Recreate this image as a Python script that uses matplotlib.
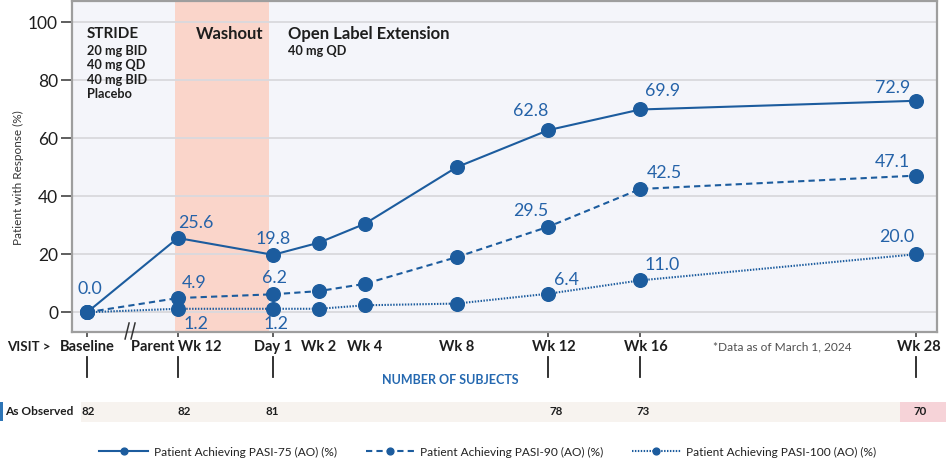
import matplotlib
matplotlib.use("Agg")
import matplotlib.pyplot as plt
import matplotlib.transforms as mtransforms
from matplotlib.lines import Line2D
from matplotlib.patches import Rectangle

plt.rcParams['font.family'] = ['Lato', 'DejaVu Sans']

# ---------------- data ----------------
visits = ["Baseline", "Parent Wk 12", "Day 1", "Wk 2", "Wk 4", "Wk 8", "Wk 12", "Wk 16", "Wk 28"]
visit_pos = [-8.1, -4.15, 0, 2, 4, 8, 12, 16, 28]          # position on timeline (OLE weeks)
pasi75 = [0.0, 25.6, 19.8, 24.0, 30.5, 50.0, 62.8, 69.9, 72.9]
pasi90 = [0.0, 4.9, 6.2, 7.3, 9.8, 19.0, 29.5, 42.5, 47.1]
pasi100 = [0.0, 1.2, 1.2, 1.2, 2.4, 3.0, 6.4, 11.0, 20.0]
series_names = ["Patient Achieving PASI-75 (AO) (%)",
                "Patient Achieving PASI-90 (AO) (%)",
                "Patient Achieving PASI-100 (AO) (%)"]
n_subjects = [82, 82, 81, None, None, None, 78, 73, 70]
yticks = [0, 20, 40, 60, 80, 100]
washout_span = (-4.27, -0.17)

# labelled points: (series index, visit index)
labelled = {
    0: [0, 1, 2, 6, 7, 8],
    1: [1, 2, 6, 7, 8],
    2: [1, 2, 6, 7, 8],
}
# label offsets in pixels (dx, dy)
label_offsets = {
    (0, 0): (3, 23), (0, 1): (18, 15), (0, 2): (0, 16), (0, 6): (-18, 19),
    (0, 7): (22, 18), (0, 8): (-23, 13),
    (1, 1): (16, 15), (1, 2): (1, 16), (1, 6): (-18, 16), (1, 7): (24, 16),
    (1, 8): (-23, 14),
    (2, 1): (18, -15), (2, 2): (3, -15), (2, 6): (18, 14), (2, 7): (22, 15),
    (2, 8): (-19, 17),
}
# small horizontal nudges (pixels) for visit labels and subject counts
visit_label_nudge = [0, -2, 0, 0, 0, 0, 5, 6, 3]
count_nudge = [1, 6, -1, 0, 0, 0, 8, 3, 4]

BLUE = '#1C5C9E'
LABEL_BLUE = '#2462A8'
DARK = '#1E1E1E'

W, H = 951, 462
fig = plt.figure(figsize=(W / 100, H / 100), dpi=100)
fig.patch.set_facecolor('white')

def fy(py):
    return 1 - py / H

ax = fig.add_axes([72 / W, fy(332), (937 - 72) / W, (332 - 1) / H])
ax.set_facecolor('#F4F5FA')
ax.set_xlim(-8.76, 28.93)
ax.set_ylim(-6.8, 107.3)

ax.axvspan(*washout_span, color='#FAD5CA', zorder=0.5, lw=0)
for yv in yticks:
    ax.axhline(yv, color='#D9D9DD', lw=1.3, zorder=0.6)

styles = [dict(ls='-'), dict(ls=(0, (3, 2))), dict(ls=(0, (0.7, 0.7)))]
all_series = [pasi75, pasi90, pasi100]
handles = []
for i, (vals, st) in enumerate(zip(all_series, styles)):
    ln, = ax.plot(visit_pos, vals, color=BLUE, lw=1.5, marker='o', ms=9.8,
                  markerfacecolor=BLUE, markeredgecolor=BLUE, zorder=3,
                  label=series_names[i], **st)
    handles.append(ln)
    for j in labelled[i]:
        dx, dy = label_offsets[(i, j)]
        ax.annotate(f"{vals[j]:.1f}", (visit_pos[j], vals[j]), xytext=(dx, dy),
                    textcoords='offset pixels', ha='center', va='center',
                    fontsize=12.8, color=LABEL_BLUE, zorder=4)

# spines & ticks
for sp in ax.spines.values():
    sp.set_color('#9E9E9E')
    sp.set_linewidth(1.6)
ax.set_yticks(yticks)
ax.set_yticklabels([str(v) for v in yticks], fontsize=12.5, color=DARK)
ax.tick_params(axis='y', direction='out', length=8, width=1.1, color='#333333', pad=2)
tick_x = [p for p, n in zip(visit_pos, n_subjects) if n is not None]
ax.set_xticks(tick_x)
ax.set_xticklabels([])
ax.tick_params(axis='x', direction='out', length=3.5, width=1.1, color='#333333')

ax.set_ylabel("Patient with Response (%)", fontsize=8.5, color='#333333')
ax.yaxis.set_label_coords(-0.0555, 0.465)

# period annotations inside plot
ax.text(-8.1, 96.0, "STRIDE", fontsize=11, fontweight='bold', color=DARK, ha='left', va='center')
for k, t in enumerate(["20 mg BID", "40 mg QD", "40 mg BID", "Placebo"]):
    ax.text(-8.1, 90.1 - k * 4.95, t, fontsize=9.2, fontweight='bold', color=DARK,
            ha='left', va='center')
ax.text(-3.37, 96.0, "Washout", fontsize=12, fontweight='bold', color=DARK, ha='left', va='center')
ax.text(0.65, 96.0, "Open Label Extension", fontsize=12, fontweight='bold', color=DARK,
        ha='left', va='center')
ax.text(0.65, 90.1, "40 mg QD", fontsize=9.2, fontweight='bold', color=DARK, ha='left', va='center')

# axis break marks
btr = mtransforms.blended_transform_factory(ax.transData, fig.transFigure)
for bx in (-6.36, -6.1):
    fig.add_artist(Line2D([bx - 0.087, bx + 0.087], [fy(339), fy(323)], transform=btr,
                          color='#333333', lw=1.1, clip_on=False))

def nudged(px):
    return btr + mtransforms.ScaledTranslation(px / 100, 0, fig.dpi_scale_trans)

# visit labels
fig.text(7 / W, fy(347), "VISIT >", fontsize=9.5, fontweight='bold', color=DARK,
         ha='left', va='center')
for name, p, nd in zip(visits, visit_pos, visit_label_nudge):
    fig.text(p, fy(347), name, transform=nudged(nd), fontsize=10.5, fontweight='bold',
             color=DARK, ha='center', va='center')
fig.text(782 / W, fy(347), "*Data as of March 1, 2024", fontsize=8.6, color='#505050',
         ha='center', va='center')

for p, n in zip(visit_pos, n_subjects):
    if n is not None:
        fig.add_artist(Line2D([p, p], [fy(357), fy(377)], transform=btr,
                              color='#222222', lw=1.3))

fig.text(450 / W, fy(380), "NUMBER OF SUBJECTS", fontsize=9, fontweight='bold',
         color='#2468B0', ha='center', va='center')

# subjects table row
fig.add_artist(Rectangle((81 / W, fy(422)), (946 - 81) / W, 20 / H,
                         transform=fig.transFigure, color='#F7F3EF', lw=0, zorder=0))
fig.add_artist(Rectangle((900 / W, fy(422)), (946 - 900) / W, 20 / H,
                         transform=fig.transFigure, color='#F6D3D8', lw=0, zorder=0.1))
fig.add_artist(Rectangle((0, fy(421)), 2.5 / W, 19 / H,
                         transform=fig.transFigure, color='#2E75B6', lw=0))
fig.text(5 / W, fy(411.5), "As Observed", fontsize=8.6, fontweight='bold', color=DARK,
         ha='left', va='center')
for p, n, nd in zip(visit_pos, n_subjects, count_nudge):
    if n is not None:
        fig.text(p, fy(411.5), str(n), transform=nudged(nd), fontsize=8.3, fontweight='bold',
                 color=DARK, ha='center', va='center')

# legend
fig.legend(handles=handles, loc='center', bbox_to_anchor=(0.513, fy(452)), ncol=3,
           frameon=False, fontsize=8.6, handlelength=4.1, handletextpad=0.45,
           columnspacing=2.4, markerscale=0.5, labelcolor='#222222')

fig.savefig("out.png", dpi=100)
